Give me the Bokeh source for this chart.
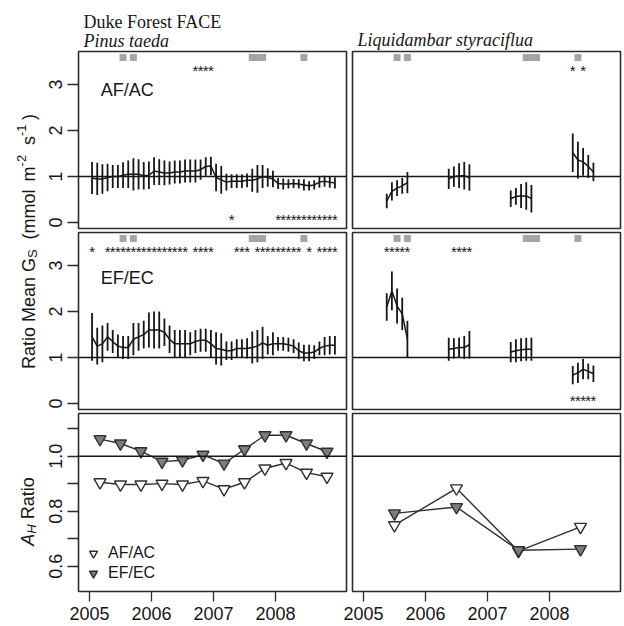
import math
from bokeh.plotting import figure
from bokeh.layouts import column, row
from bokeh.models import (Range1d, Span, Label, FixedTicker, Legend, LegendItem,
                          CustomJSTickFormatter)
from bokeh.core.properties import value
from bokeh.embed import file_html
from bokeh.resources import INLINE

SANS = "Liberation Sans"
SERIF = "Liberation Serif"
INK = "#161616"
FRAME = "#2b2b2b"
EVENT_GRAY = "#a5a5a5"
FILL_GRAY = "#7d7d7d"

# ---------------- data ----------------
# Pinus taeda: monthly ratios, month index 0 = Jan 2005 ... 47 = Dec 2008
pine_months = list(range(48))
pine_af_mean = [0.97, 0.95, 0.95, 0.98, 1.00, 1.00, 1.03, 1.05, 1.05, 1.05, 1.02, 1.03,
                1.12, 1.10, 1.08, 1.08, 1.10, 1.10, 1.12, 1.12, 1.12, 1.15, 1.22, 1.23,
                0.98, 0.93, 0.88, 0.90, 0.90, 0.90, 0.92, 0.92, 0.95, 1.00, 0.98, 0.95,
                0.85, 0.84, 0.84, 0.85, 0.84, 0.82, 0.80, 0.82, 0.88, 0.90, 0.88, 0.86]
pine_af_err = [0.35, 0.35, 0.32, 0.30, 0.25, 0.25, 0.28, 0.30, 0.35, 0.33, 0.30, 0.30,
               0.30, 0.28, 0.27, 0.25, 0.25, 0.25, 0.25, 0.25, 0.25, 0.22, 0.20, 0.20,
               0.30, 0.30, 0.18, 0.15, 0.15, 0.15, 0.15, 0.25, 0.30, 0.25, 0.20, 0.18,
               0.12, 0.12, 0.10, 0.10, 0.10, 0.12, 0.10, 0.10, 0.12, 0.12, 0.12, 0.12]
pine_ef_mean = [1.45, 1.25, 1.30, 1.45, 1.35, 1.25, 1.22, 1.22, 1.40, 1.45, 1.50, 1.60,
                1.60, 1.60, 1.55, 1.40, 1.30, 1.30, 1.30, 1.30, 1.35, 1.38, 1.38, 1.30,
                1.20, 1.18, 1.15, 1.15, 1.20, 1.20, 1.20, 1.22, 1.25, 1.32, 1.27, 1.30,
                1.30, 1.30, 1.28, 1.25, 1.15, 1.10, 1.10, 1.12, 1.20, 1.25, 1.27, 1.27]
pine_ef_err = [0.52, 0.40, 0.40, 0.30, 0.25, 0.25, 0.25, 0.25, 0.35, 0.30, 0.30, 0.38,
               0.40, 0.40, 0.30, 0.30, 0.30, 0.30, 0.30, 0.25, 0.25, 0.25, 0.25, 0.30,
               0.35, 0.35, 0.20, 0.20, 0.20, 0.20, 0.22, 0.35, 0.35, 0.35, 0.20, 0.25,
               0.15, 0.15, 0.15, 0.15, 0.18, 0.18, 0.18, 0.15, 0.15, 0.20, 0.20, 0.20]

# significant months (ratio above / below 1)
pine_af_sig_hi = [20, 21, 22, 23]
pine_af_sig_lo = [27, 36, 37, 38, 39, 40, 41, 42, 43, 44, 45, 46, 47]
pine_ef_sig_hi = [0, 3, 4, 5, 6, 7, 8, 9, 10, 11, 12, 13, 14, 15, 16, 17, 18,
                  20, 21, 22, 23, 28, 29, 30, 32, 33, 34, 35, 36, 37, 38, 39, 40,
                  42, 44, 45, 46, 47]
pine_ef_sig_lo = []

# Liquidambar styraciflua: growing-season months (May-Sep) of each year
sweet_months = [[4, 5, 6, 7, 8], [16, 17, 18, 19, 20], [28, 29, 30, 31, 32], [40, 41, 42, 43, 44]]
sweet_af_mean = [[0.47, 0.68, 0.75, 0.80, 0.87], [0.95, 1.00, 1.02, 1.02, 0.98],
                 [0.52, 0.57, 0.58, 0.58, 0.52], [1.52, 1.36, 1.32, 1.22, 1.10]]
sweet_af_err = [[0.16, 0.20, 0.17, 0.17, 0.23], [0.22, 0.22, 0.27, 0.30, 0.29],
                [0.18, 0.18, 0.26, 0.30, 0.30], [0.42, 0.40, 0.30, 0.25, 0.20]]
sweet_ef_mean = [[2.10, 2.45, 2.12, 1.95, 1.40], [1.18, 1.20, 1.22, 1.22, 1.28],
                 [1.12, 1.15, 1.17, 1.18, 1.18], [0.62, 0.67, 0.75, 0.70, 0.65]]
sweet_ef_err = [[0.30, 0.42, 0.38, 0.35, 0.40], [0.25, 0.22, 0.22, 0.25, 0.30],
                [0.22, 0.25, 0.25, 0.25, 0.25], [0.20, 0.22, 0.22, 0.17, 0.18]]
sweet_af_sig_hi = [40, 42]
sweet_af_sig_lo = []
sweet_ef_sig_hi = [4, 5, 6, 7, 8, 17, 18, 19, 20]
sweet_ef_sig_lo = [40, 41, 42, 43, 44]

# months flagged with grey squares
event_months = [6, 8, 31, 32, 33, 41]

# A_H ratio
pine_ah_time = [2005.17, 2005.50, 2005.83, 2006.17, 2006.50, 2006.83,
                2007.17, 2007.50, 2007.83, 2008.17, 2008.50, 2008.83]
pine_ah_af = [0.905, 0.897, 0.897, 0.900, 0.897, 0.910, 0.880, 0.905, 0.955, 0.975, 0.940, 0.925]
pine_ah_ef = [1.062, 1.046, 1.018, 0.980, 0.985, 1.005, 0.973, 1.025, 1.076, 1.076, 1.046, 1.016]
sweet_ah_time = [2005.5, 2006.5, 2007.5, 2008.5]
sweet_ah_af = [0.749, 0.883, 0.655, 0.743]
sweet_ah_ef = [0.792, 0.815, 0.658, 0.662]

year_ticks = [2005, 2006, 2007, 2008]
gs_ticks = [0, 1, 2, 3]
gs_tick_labels = ["0", "1", "2", "3"]
ah_ticks = [0.6, 0.8, 1.0]
ah_tick_labels = ["0.6", "0.8", "1.0"]
ah_minor = [0.7, 0.9, 1.1]

# ---------------- geometry ----------------
X_RANGE = (2004.823, 2009.145)
GS_RANGE = (-0.128, 3.72)
AH_RANGE = (0.508, 1.155)
SIG_HI_Y = 3.31
SIG_LO_Y = 0.07
EVENT_Y = 3.59
REF_RATIO = 1.0
OVERLAP = 8
HEADER_H = 50
STRIP_W = 65
ROW_H = [180, 181, 215]          # figure heights of the three rows
ROW_TOP = [1, 2, 2]              # border above each frame
ROW_BOTTOM = [2, 2, 35]          # border below each frame


def month_to_year(m):
    return 2005 + (m + 0.5) / 12.0


def style_axis(ax):
    ax.axis_line_color = None
    ax.major_tick_line_color = FRAME
    ax.major_tick_line_width = 1.3
    ax.major_tick_out = 10
    ax.major_tick_in = 0
    ax.minor_tick_line_color = None
    ax.major_label_text_font = SANS
    ax.major_label_text_font_size = "18px"
    ax.major_label_text_color = INK
    ax.major_label_standoff = 5


def style_left_axis(ax):
    # ticks only; the rotated numbers are set in the left strip
    ax.axis_line_color = None
    ax.major_tick_line_color = FRAME
    ax.major_tick_line_width = 1.3
    ax.major_tick_out = 11
    ax.major_tick_in = 0
    ax.minor_tick_line_color = None
    ax.major_label_standoff = 0
    ax.major_label_text_font_size = "1px"
    ax.formatter = CustomJSTickFormatter(code="return ''")


def make_panel(w, h, yr, borders, xaxis=False, yaxis=False, right_col=False):
    l, r, t, b = borders
    p = figure(width=w, height=h, x_range=Range1d(*X_RANGE), y_range=Range1d(*yr),
               output_backend="svg", toolbar_location=None,
               x_axis_location="below" if xaxis else None,
               y_axis_location="left" if yaxis else None,
               min_border_left=l, min_border_right=r, min_border_top=t, min_border_bottom=b)
    p.grid.visible = False
    p.outline_line_color = FRAME
    p.outline_line_width = 1.6
    p.background_fill_color = "white"
    p.border_fill_color = None if right_col else "white"
    if right_col:
        p.margin = (0, 0, 0, -OVERLAP)
    p.add_layout(Span(location=REF_RATIO, dimension="width", line_color=INK, line_width=1.5))
    if xaxis:
        style_axis(p.xaxis[0])
        p.xaxis[0].ticker = FixedTicker(ticks=year_ticks)
    if yaxis:
        style_left_axis(p.yaxis[0])
    return p


def draw_series(p, months, mean, err):
    t = [month_to_year(m) for m in months]
    lo = [m - e for m, e in zip(mean, err)]
    hi = [m + e for m, e in zip(mean, err)]
    p.segment(x0=t, y0=lo, x1=t, y1=hi, line_color=INK, line_width=1.8)
    p.line(t, mean, line_color=INK, line_width=1.5)


def draw_stars(p, months, y):
    if not months:
        return
    t = [month_to_year(m) for m in months]
    p.text(x=t, y=[y] * len(t), text=["*"] * len(t), text_font=value(SANS),
           text_font_size="15px", text_align="center", text_baseline="middle",
           text_color=INK)


def draw_events(p):
    t = [month_to_year(m) for m in event_months]
    p.scatter(t, [EVENT_Y] * len(t), marker="square", size=7,
              fill_color=EVENT_GRAY, line_color=None)


def draw_ah(p, t, af, ef):
    p.line(t, af, line_color="#2f2f2f", line_width=1.4)
    p.line(t, ef, line_color="#2f2f2f", line_width=1.4)
    r_af = p.scatter(t, af, marker="inverted_triangle", size=12, fill_color="white",
                     line_color="#2f2f2f", line_width=1.4)
    r_ef = p.scatter(t, ef, marker="inverted_triangle", size=12, fill_color=FILL_GRAY,
                     line_color="#2f2f2f", line_width=1.4)
    return r_af, r_ef


def panel_label(p, x, y, text):
    p.add_layout(Label(x=x, y=y, text=text, text_font=SANS, text_font_size="18px",
                       text_baseline="alphabetic", text_color=INK))


LW, RW = 349 - STRIP_W, 275 + OVERLAP
L_BORD = 78 - STRIP_W
R_BORD = 3 + OVERLAP

# ---- top row: AF/AC ----
tl = make_panel(LW, ROW_H[0], GS_RANGE, (L_BORD, 3, ROW_TOP[0], ROW_BOTTOM[0]), yaxis=True)
tl.yaxis[0].ticker = FixedTicker(ticks=gs_ticks)
draw_events(tl)
draw_series(tl, pine_months, pine_af_mean, pine_af_err)
draw_stars(tl, pine_af_sig_hi, SIG_HI_Y)
draw_stars(tl, pine_af_sig_lo, SIG_LO_Y)
panel_label(tl, 2005.18, 2.89, "AF/AC")

tr = make_panel(RW, ROW_H[0], GS_RANGE, (R_BORD, 4, ROW_TOP[0], ROW_BOTTOM[0]), right_col=True)
draw_events(tr)
for m, mu, e in zip(sweet_months, sweet_af_mean, sweet_af_err):
    draw_series(tr, m, mu, e)
draw_stars(tr, sweet_af_sig_hi, SIG_HI_Y)
draw_stars(tr, sweet_af_sig_lo, SIG_LO_Y)

# ---- middle row: EF/EC ----
ml = make_panel(LW, ROW_H[1], GS_RANGE, (L_BORD, 3, ROW_TOP[1], ROW_BOTTOM[1]), yaxis=True)
ml.yaxis[0].ticker = FixedTicker(ticks=gs_ticks)
draw_events(ml)
draw_series(ml, pine_months, pine_ef_mean, pine_ef_err)
draw_stars(ml, pine_ef_sig_hi, SIG_HI_Y)
draw_stars(ml, pine_ef_sig_lo, SIG_LO_Y)
panel_label(ml, 2005.18, 2.72, "EF/EC")

mr = make_panel(RW, ROW_H[1], GS_RANGE, (R_BORD, 4, ROW_TOP[1], ROW_BOTTOM[1]), right_col=True)
draw_events(mr)
for m, mu, e in zip(sweet_months, sweet_ef_mean, sweet_ef_err):
    draw_series(mr, m, mu, e)
draw_stars(mr, sweet_ef_sig_hi, SIG_HI_Y)
draw_stars(mr, sweet_ef_sig_lo, SIG_LO_Y)

# ---- bottom row: A_H ratio ----
bl = make_panel(LW, ROW_H[2], AH_RANGE, (L_BORD, 3, ROW_TOP[2], ROW_BOTTOM[2]),
                xaxis=True, yaxis=True)
bl.yaxis[0].ticker = FixedTicker(ticks=ah_ticks, minor_ticks=ah_minor)
bl.yaxis[0].minor_tick_line_color = FRAME
bl.yaxis[0].minor_tick_line_width = 1.3
bl.yaxis[0].minor_tick_out = 11
bl.yaxis[0].minor_tick_in = 0
r_af, r_ef = draw_ah(bl, pine_ah_time, pine_ah_af, pine_ah_ef)
legend = Legend(items=[LegendItem(label="AF/AC", renderers=[r_af]),
                       LegendItem(label="EF/EC", renderers=[r_ef])],
                location=(5, 8), border_line_color=None, background_fill_alpha=0,
                padding=0, spacing=0, margin=0, glyph_width=20, glyph_height=20,
                label_height=20, label_standoff=5, label_text_font=SANS,
                label_text_font_size="16px", label_text_color=INK)
bl.add_layout(legend)

br = make_panel(RW, ROW_H[2], AH_RANGE, (R_BORD, 4, ROW_TOP[2], ROW_BOTTOM[2]),
                xaxis=True, right_col=True)
draw_ah(br, sweet_ah_time, sweet_ah_af, sweet_ah_ef)

# ---- header with the site and species titles ----
header = figure(width=624, height=HEADER_H, x_range=Range1d(0, 624),
                y_range=Range1d(HEADER_H, 0),
                output_backend="svg", toolbar_location=None,
                x_axis_location=None, y_axis_location=None,
                min_border=0, min_border_left=0, min_border_right=0,
                min_border_top=0, min_border_bottom=0)
header.grid.visible = False
header.outline_line_color = None
for hx, hy, htext, hstyle in [(83, 21, "Duke Forest FACE", "normal"),
                              (83, 40, "Pinus taeda", "italic"),
                              (357, 39, "Liquidambar styraciflua", "italic")]:
    header.add_layout(Label(x=hx, y=hy, text=htext, text_font=SERIF,
                            text_font_style=hstyle, text_font_size="18px",
                            text_color=INK, text_baseline="alphabetic"))

# ---- left strip: rotated axis titles and y tick numbers ----
strip = figure(width=STRIP_W, height=626 - HEADER_H, x_range=Range1d(0, STRIP_W),
               y_range=Range1d(626, HEADER_H),
               output_backend="svg", toolbar_location=None,
               x_axis_location=None, y_axis_location=None,
               min_border=0, min_border_left=0, min_border_right=0,
               min_border_top=0, min_border_bottom=0)
strip.grid.visible = False
strip.outline_line_color = None

ARIAL_W = {' ': 278, '(': 333, ')': 333, '-': 333, '.': 278, '0': 556, '1': 556,
           '2': 556, '3': 556, '6': 556, '8': 556, 'A': 667,
           'G': 778, 'H': 722, 'M': 833, 'R': 722, 'S': 667, 'a': 556, 'e': 556,
           'i': 222, 'l': 222, 'm': 833, 'n': 556, 'o': 556, 's': 500, 't': 278}


def text_width(txt, size):
    return sum(ARIAL_W[c] for c in txt) / 1000.0 * size


def rotated_rich(p, pieces, x_base, y_center, size):
    """pieces: (text, scale, shift_px, style, gap_em) drawn bottom-to-top."""
    widths = []
    for txt, scale, shift, style, gap in pieces:
        widths.append(gap * size + text_width(txt, size * scale))
    y = y_center + sum(widths) / 2.0
    for (txt, scale, shift, style, gap), w in zip(pieces, widths):
        y -= gap * size
        p.add_layout(Label(x=x_base + shift, y=y, text=txt, angle=math.pi / 2,
                           text_font=SANS, text_font_size="%.1fpx" % (size * scale),
                           text_font_style=style, text_align="left",
                           text_baseline="alphabetic", text_color=INK))
        y -= w - gap * size


rotated_rich(strip, [("Ratio Mean G", 1.0, 0, "normal", 0.0),
                     ("S", 0.72, 4, "normal", 0.0),
                     ("(mmol", 1.0, 0, "normal", 0.55),
                     ("m", 1.0, 0, "normal", 0.45),
                     ("-2", 0.72, -7, "normal", 0.0),
                     ("s", 1.0, 0, "normal", 0.55),
                     ("-1", 0.72, -7, "normal", 0.0),
                     (")", 1.0, 0, "normal", 0.25)], 28, 241, 18)
rotated_rich(strip, [("A", 1.0, 0, "italic", 0.0),
                     ("H", 0.72, 4, "italic", 0.0),
                     ("Ratio", 1.0, 0, "normal", 0.28)], 27, 511, 18)

# y tick numbers, placed on each row's vertical scale
row_frame_top = [HEADER_H + ROW_TOP[0],
                 HEADER_H + ROW_H[0] + ROW_TOP[1],
                 HEADER_H + ROW_H[0] + ROW_H[1] + ROW_TOP[2]]
row_frame_h = [ROW_H[i] - ROW_TOP[i] - ROW_BOTTOM[i] for i in range(3)]
row_ranges = [GS_RANGE, GS_RANGE, AH_RANGE]
row_ticks = [(gs_ticks, gs_tick_labels), (gs_ticks, gs_tick_labels), (ah_ticks, ah_tick_labels)]
for top, fh, rng, (ticks, labels) in zip(row_frame_top, row_frame_h, row_ranges, row_ticks):
    for v, txt in zip(ticks, labels):
        sy = top + (rng[1] - v) * fh / (rng[1] - rng[0])
        strip.add_layout(Label(x=55, y=sy + text_width(txt, 18) / 2.0, text=txt,
                               angle=math.pi / 2, text_font=SANS, text_font_size="18px",
                               text_align="left", text_baseline="alphabetic",
                               text_color=INK))

grid = column(row(tl, tr), row(ml, mr), row(bl, br))
page = column(header, row(strip, grid))

open("out.html", "w").write(file_html(page, INLINE))
